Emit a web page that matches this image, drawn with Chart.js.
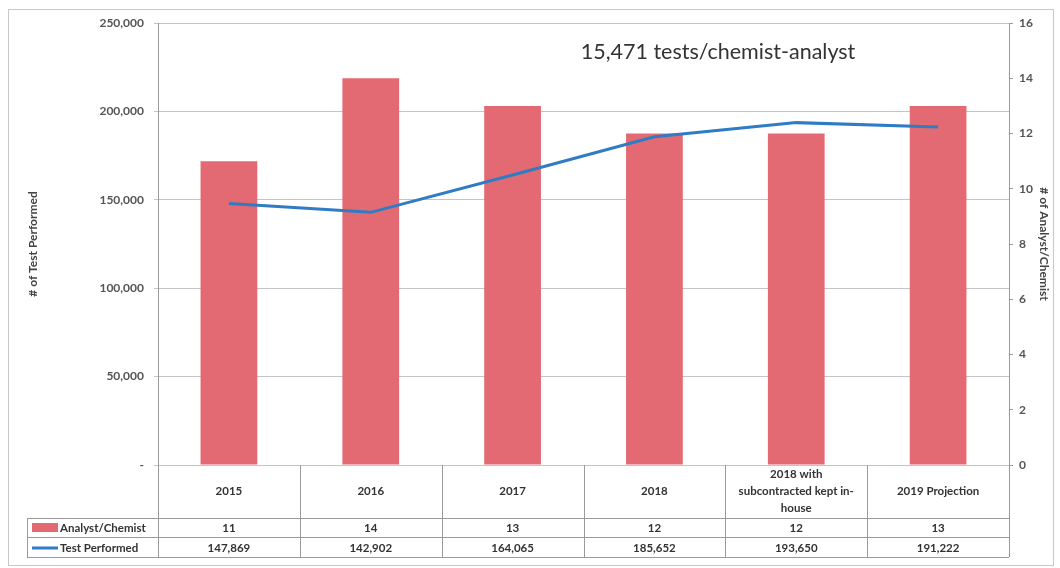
<!DOCTYPE html>
<html>
<head>
<meta charset="utf-8">
<script src="https://cdn.jsdelivr.net/npm/chart.js@4.4.1/dist/chart.umd.min.js"></script>
<style>
  html, body { margin: 0; padding: 0; background: #fff; }
  #wrap { width: 1060px; height: 568px; position: relative; }
</style>
</head>
<body>
<div id="wrap"><canvas id="c" width="1060" height="568"></canvas></div>
<script>
const categories = ['2015', '2016', '2017', '2018', '2018 with subcontracted kept in-house', '2019 Projection'];
const categoryLines = [['2015'], ['2016'], ['2017'], ['2018'], ['2018 with', 'subcontracted kept in-', 'house'], ['2019 Projection']];
const analystChemist = [11, 14, 13, 12, 12, 13];
const testPerformed = [147869, 142902, 164065, 185652, 193650, 191222];
const leftTicks = [0, 50000, 100000, 150000, 200000, 250000];
const rightTicks = [0, 2, 4, 6, 8, 10, 12, 14, 16];
const titleText = '15,471 tests/chemist-analyst';

const BAR_COLOR = '#e36a72';
const LINE_COLOR = '#2f7cc4';
const FONT = 'Lato, "Open Sans", sans-serif';

const tablePlugin = {
  id: 'tablePlugin',
  afterDraw(chart) {
    const ctx = chart.ctx;
    const x = chart.scales.x;
    const area = chart.chartArea;
    const n = categories.length;
    const step = (area.right - area.left) / n;
    const top = area.bottom;
    const row1 = top + 53, row2 = row1 + 19, row3 = row2 + 20;
    const legLeft = 27;
    ctx.save();
    // outer frame
    ctx.strokeStyle = '#c8c8c8';
    ctx.lineWidth = 1;
    ctx.strokeRect(8.5, 9.5, 1045, 556);
    // table lines
    ctx.strokeStyle = '#9a9a9a';
    ctx.beginPath();
    for (let i = 0; i <= n; i++) {
      const xx = Math.round(area.left + i * step) + 0.5;
      ctx.moveTo(xx, top);
      ctx.lineTo(xx, row3);
    }
    [row1, row2, row3].forEach(y => {
      ctx.moveTo(legLeft, y + 0.5);
      ctx.lineTo(area.right, y + 0.5);
    });
    ctx.moveTo(legLeft + 0.5, row1);
    ctx.lineTo(legLeft + 0.5, row3);
    ctx.stroke();
    // category labels
    ctx.fillStyle = '#333';
    ctx.textAlign = 'center';
    ctx.textBaseline = 'middle';
    ctx.font = 'bold 11.5px ' + FONT;
    categoryLines.forEach((lines, i) => {
      const cx = x.getPixelForValue(i);
      const mid = (top + row1) / 2;
      const lh = 17;
      lines.forEach((ln, j) => {
        ctx.fillText(ln, cx, mid + (j - (lines.length - 1) / 2) * lh);
      });
      ctx.fillText(String(analystChemist[i]), cx, (row1 + row2) / 2 + 1);
      ctx.fillText(testPerformed[i].toLocaleString('en-US'), cx, (row2 + row3) / 2 + 1);
    });
    // legend keys
    ctx.fillStyle = BAR_COLOR;
    ctx.fillRect(32, row1 + 5, 26, 9);
    ctx.strokeStyle = LINE_COLOR;
    ctx.lineWidth = 3;
    ctx.beginPath();
    ctx.moveTo(32, (row2 + row3) / 2 + 1);
    ctx.lineTo(58, (row2 + row3) / 2 + 1);
    ctx.stroke();
    ctx.fillStyle = '#333';
    ctx.textAlign = 'left';
    ctx.fillText('Analyst/Chemist', 60, (row1 + row2) / 2 + 1);
    ctx.fillText('Test Performed', 60, (row2 + row3) / 2 + 1);
    // title
    ctx.font = '21.5px ' + FONT;
    ctx.textAlign = 'center';
    ctx.fillStyle = '#333';
    ctx.fillText(titleText, 718, 52);
    ctx.restore();
  }
};

new Chart(document.getElementById('c'), {
  data: {
    labels: categories,
    datasets: [
      {
        type: 'line',
        label: 'Test Performed',
        data: testPerformed,
        yAxisID: 'y',
        borderColor: LINE_COLOR,
        borderWidth: 3,
        pointRadius: 0,
        tension: 0,
        order: 0
      },
      {
        type: 'bar',
        label: 'Analyst/Chemist',
        data: analystChemist,
        yAxisID: 'y1',
        backgroundColor: BAR_COLOR,
        barPercentage: 0.4,
        categoryPercentage: 1.0,
        order: 1
      }
    ]
  },
  options: {
    responsive: false,
    animation: false,
    layout: { padding: { left: 22, right: 5, top: 23, bottom: 103 } },
    plugins: { legend: { display: false }, tooltip: { enabled: false } },
    scales: {
      x: { display: false, offset: true },
      y: {
        position: 'left',
        min: 0, max: 250000,
        afterBuildTicks: s => { s.ticks = leftTicks.map(v => ({ value: v })); },
        afterFit: s => { s.width = 136; },
        ticks: {
          padding: 10,
          color: '#555',
          font: { family: FONT, size: 12, weight: 'bold' },
          callback: v => v === 0 ? '-' : v.toLocaleString('en-US')
        },
        grid: { color: '#c4c4c4', tickLength: 4, drawTicks: true },
        border: { color: '#9a9a9a' },
        title: {
          display: true,
          text: '# of Test Performed',
          color: '#444',
          font: { family: FONT, size: 12, weight: 'bold' },
          padding: { top: 4, bottom: 4 }
        }
      },
      y1: {
        position: 'right',
        min: 0, max: 16,
        afterBuildTicks: s => { s.ticks = rightTicks.map(v => ({ value: v })); },
        afterFit: s => { s.width = 46; },
        ticks: {
          padding: 6,
          color: '#555',
          font: { family: FONT, size: 12, weight: 'bold' }
        },
        grid: { drawOnChartArea: false, color: '#9a9a9a', tickLength: 4 },
        border: { color: '#9a9a9a' },
        title: {
          display: true,
          text: '# of Analyst/Chemist',
          color: '#444',
          font: { family: FONT, size: 12, weight: 'bold' },
          padding: { top: 4, bottom: 4 }
        }
      }
    }
  },
  plugins: [tablePlugin]
});
</script>
</body>
</html>
